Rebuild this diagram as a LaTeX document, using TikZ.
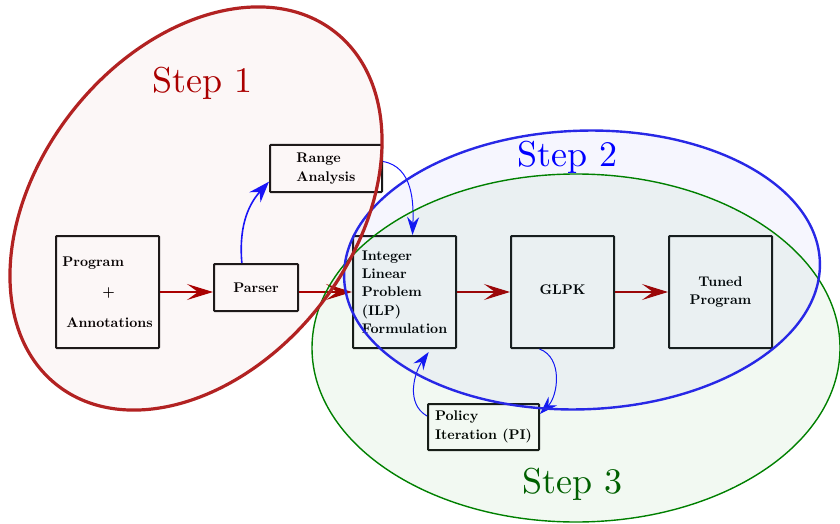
\documentclass[tikz,border=0pt]{standalone}
\usepackage{fontspec}
\usetikzlibrary{arrows.meta}
\newfontfamily\stepfont{lmroman10-regular.otf}
\newfontfamily\boxfont{lmroman10-bold.otf}
\definecolor{stepred}{RGB}{170,0,0}
\definecolor{ellred}{RGB}{178,34,34}
\definecolor{ellblue}{RGB}{40,40,230}
\definecolor{ellgreen}{RGB}{0,128,0}
\definecolor{stepgreen}{RGB}{0,96,0}
\definecolor{arrred}{RGB}{170,0,0}
\definecolor{loopblue}{RGB}{20,20,255}
\begin{document}
\begin{tikzpicture}[x=1pt,y=1pt,
  box/.style={draw=black!90, line width=2pt, rounded corners=0.8pt,
    font=\boxfont\fontsize{14}{18.3}\selectfont, inner sep=0pt},
  bigbox/.style={box, minimum width=103pt, minimum height=112pt},
  flow/.style={draw=arrred, line width=1.1pt, -{Stealth[length=26pt,width=16pt,inset=11pt]}},
  loopa/.style={draw=loopblue, line width=1pt, -{Stealth[length=18pt,width=12pt,inset=6pt]}},
  loopb/.style={draw=loopblue, line width=1.6pt, -{Stealth[length=21pt,width=15pt,inset=7pt]}},
  steplabel/.style={font=\stepfont\fontsize{36}{40}\selectfont, anchor=base west, inner sep=0pt}]
\useasboundingbox (0,0) rectangle (840,523);

% boxes
\node[bigbox, align=left] (prog) at (107.5,231)
  {Program\\[12pt]\hspace*{40pt}+\\[12pt]\hspace*{4pt}Annotations};
\node[box, minimum width=84pt, minimum height=47pt] (parser) at (256,235.5) {Parser};
\node[box, minimum width=112pt, minimum height=47pt, align=left] (range) at (326,354.5)
  {Range\\Analysis};
\node[bigbox, align=left] (ilp) at (404.5,231)
  {Integer\\Linear\\Problem\\(ILP)\\Formulation};
\node[bigbox] (glpk) at (562.5,231) {\raisebox{4pt}{GLPK}};
\node[bigbox, align=center] (tuned) at (720.5,231) {Tuned\\Program};
\node[box, minimum width=111pt, minimum height=46pt, align=left] (policy) at (483.5,96)
  {Policy\\Iteration (PI)};

% red flow arrows
\draw[flow] (prog.east) -- (prog.east -| parser.west);
\draw[flow] (prog.east -| parser.east) -- (ilp.west);
\draw[flow] (ilp.east) -- (glpk.west);
\draw[flow] (glpk.east) -- (tuned.west);

% blue arrows
\draw[loopb] (parser.120) to[out=95,in=228] (range.193);
\draw[loopa] (range.7) to[out=-10,in=88] (ilp.82);
\draw[loopa] (glpk.248) to[out=-20,in=45] (policy.13);
\draw[loopa] (policy.169) to[out=150,in=235] ([yshift=-3pt]ilp.293);

% ellipses
\fill[ellgreen, fill opacity=0.05] (576,175) ellipse [x radius=264, y radius=174];
\fill[ellblue, fill opacity=0.045, rotate around={2:(582,253)}] (582,253) ellipse [x radius=238, y radius=139.3];
\fill[ellred, fill opacity=0.035, rotate around={51.75:(196,314.5)}] (196,314.5) ellipse [x radius=224.7, y radius=157.3];
\draw[ellgreen, line width=1.4pt] (576,175) ellipse [x radius=264, y radius=174];
\draw[ellblue, line width=2.4pt, rotate around={2:(582,253)}] (582,253) ellipse [x radius=238, y radius=139.3];
\draw[ellred, line width=3.2pt, rotate around={51.75:(196,314.5)}] (196,314.5) ellipse [x radius=224.7, y radius=157.3];

% step labels
\node[steplabel, text=stepred] (s1) at (152,430) {Step 1};
\node[steplabel, text=blue] (s2) at (517,356) {Step 2};
\node[steplabel, text=stepgreen] (s3) at (522,30) {Step 3};
\end{tikzpicture}
\end{document}
